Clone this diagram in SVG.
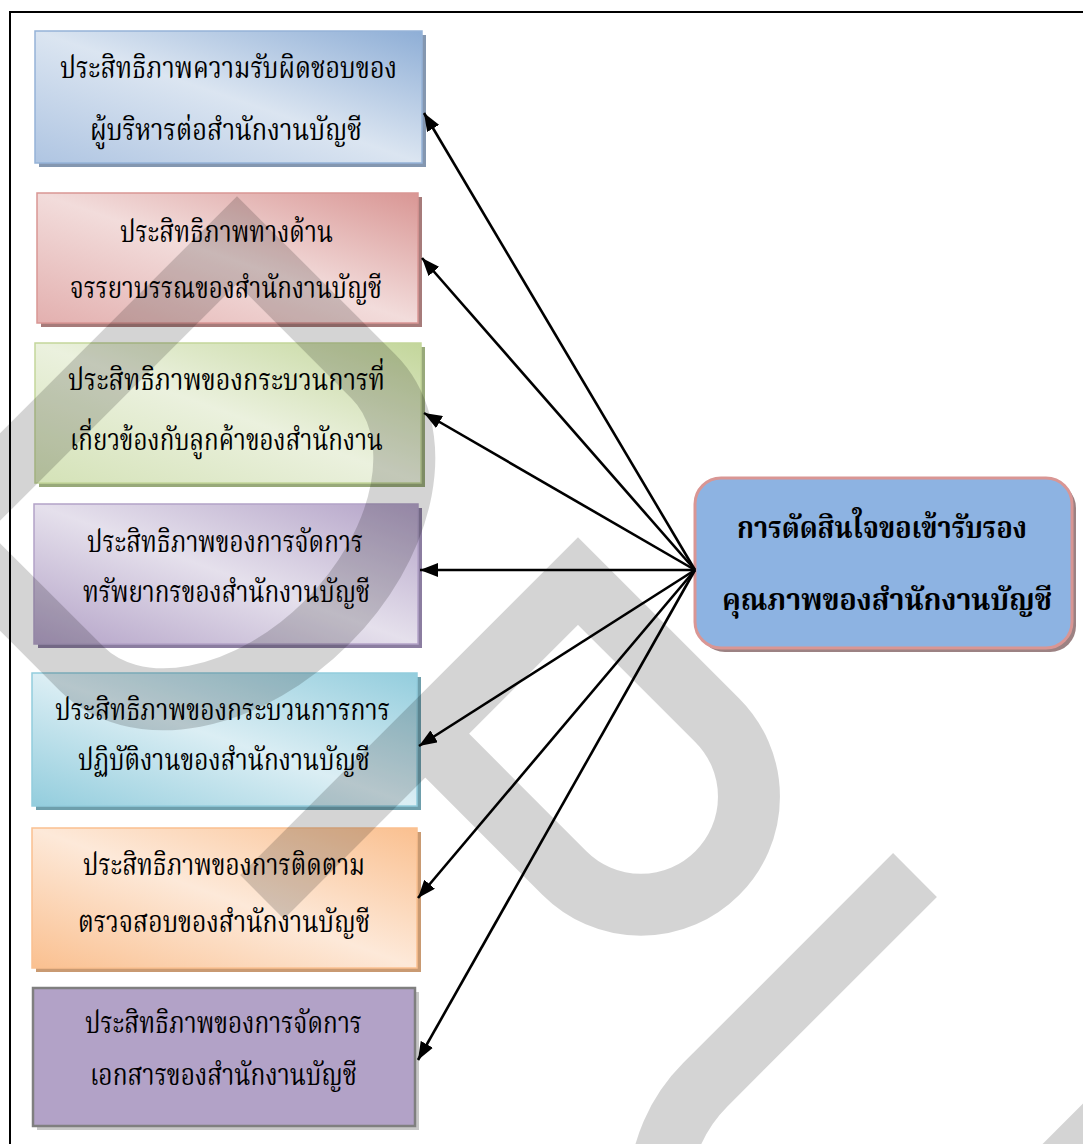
<svg xmlns="http://www.w3.org/2000/svg" width="1083" height="1144" viewBox="0 0 1083 1144">
  <style>
    .t { font-family: "Noto Serif Thai", "Noto Sans Thai", "Loma", "Garuda", "Norasi", "Tlwg Typo", "DejaVu Sans", serif; font-size: 30px; fill: #000; text-anchor: middle; }
    .tb { font-family: "Noto Serif Thai", "Noto Sans Thai", "Loma", "Garuda", "Norasi", "DejaVu Sans", serif; font-size: 31px; font-weight: bold; fill: #000; text-anchor: middle; }
    .conn line { stroke: #000; stroke-width: 2.6; fill: none; marker-end: url(#ah); }
    .wm path { fill: none; stroke: #000; stroke-opacity: 0.17; stroke-width: 62; stroke-linejoin: miter; stroke-linecap: butt; }
  </style>
  <defs>
    <marker id="ah" markerUnits="userSpaceOnUse" markerWidth="18" markerHeight="14" refX="18" refY="7" orient="auto">
      <path d="M0,0 L18,7 L0,14 z" fill="#000"/>
    </marker>
    <linearGradient id="g1" x1="1" y1="0" x2="0" y2="1">
      <stop offset="0" stop-color="#8EAED6"/><stop offset="0.5" stop-color="#DBE5F1"/><stop offset="1" stop-color="#AFC5E2"/>
    </linearGradient>
    <linearGradient id="g2" x1="1" y1="0" x2="0" y2="1">
      <stop offset="0" stop-color="#D99694"/><stop offset="0.5" stop-color="#F2DCDB"/><stop offset="1" stop-color="#E3B0AF"/>
    </linearGradient>
    <linearGradient id="g3" x1="1" y1="0" x2="0" y2="1">
      <stop offset="0" stop-color="#C3D69B"/><stop offset="0.5" stop-color="#EBF1DE"/><stop offset="1" stop-color="#D4E2B7"/>
    </linearGradient>
    <linearGradient id="g4" x1="1" y1="0" x2="0" y2="1">
      <stop offset="0" stop-color="#B3A2C7"/><stop offset="0.5" stop-color="#E5E0EC"/><stop offset="1" stop-color="#B3A2C7"/>
    </linearGradient>
    <linearGradient id="g5" x1="1" y1="0" x2="0" y2="1">
      <stop offset="0" stop-color="#93CDDD"/><stop offset="0.5" stop-color="#DBEEF4"/><stop offset="1" stop-color="#93CDDD"/>
    </linearGradient>
    <linearGradient id="g6" x1="1" y1="0" x2="0" y2="1">
      <stop offset="0" stop-color="#FAC090"/><stop offset="0.5" stop-color="#FDE9D9"/><stop offset="1" stop-color="#FAC090"/>
    </linearGradient>
  </defs>

  <rect x="0" y="0" width="1083" height="1144" fill="#fff"/>
  <rect x="10" y="12" width="1100" height="1160" fill="none" stroke="#000" stroke-width="2"/>

  <g id="n1">
    <rect x="39" y="35" width="387" height="132" fill="#8497B0"/>
    <rect x="35" y="31" width="387" height="132" fill="url(#g1)" stroke="#95B3D7" stroke-width="1.5"/>
    <text class="t" x="228.5" y="78" textLength="337" lengthAdjust="spacingAndGlyphs">ประสิทธิภาพความรับผิดชอบของ</text>
    <text class="t" x="226" y="140" textLength="272" lengthAdjust="spacingAndGlyphs">ผู้บริหารต่อสำนักงานบัญชี</text>
  </g>
  <g id="n2">
    <rect x="41" y="197" width="381" height="130" fill="#A67B7A"/>
    <rect x="37" y="193" width="381" height="130" fill="url(#g2)" stroke="#D99694" stroke-width="1.5"/>
    <text class="t" x="226.5" y="242" textLength="213" lengthAdjust="spacingAndGlyphs">ประสิทธิภาพทางด้าน</text>
    <text class="t" x="226" y="298" textLength="312" lengthAdjust="spacingAndGlyphs">จรรยาบรรณของสำนักงานบัญชี</text>
  </g>
  <g id="n3">
    <rect x="39" y="347" width="386" height="140" fill="#98A97A"/>
    <rect x="35" y="343" width="386" height="140" fill="url(#g3)" stroke="#C3D69B" stroke-width="1.5"/>
    <text class="t" x="226.5" y="390" textLength="317" lengthAdjust="spacingAndGlyphs">ประสิทธิภาพของกระบวนการที่</text>
    <text class="t" x="226.5" y="450" textLength="313" lengthAdjust="spacingAndGlyphs">เกี่ยวข้องกับลูกค้าของสำนักงาน</text>
  </g>
  <g id="n4">
    <rect x="38" y="508" width="384" height="140" fill="#8B7DA0"/>
    <rect x="34" y="504" width="384" height="140" fill="url(#g4)" stroke="#B3A2C7" stroke-width="1.5"/>
    <text class="t" x="225" y="552" textLength="276" lengthAdjust="spacingAndGlyphs">ประสิทธิภาพของการจัดการ</text>
    <text class="t" x="226.5" y="602" textLength="287" lengthAdjust="spacingAndGlyphs">ทรัพยากรของสำนักงานบัญชี</text>
  </g>
  <g id="n5">
    <rect x="36" y="677" width="385" height="133" fill="#6E9FAC"/>
    <rect x="32" y="673" width="385" height="133" fill="url(#g5)" stroke="#93CDDD" stroke-width="1.5"/>
    <text class="t" x="222.5" y="720" textLength="335" lengthAdjust="spacingAndGlyphs">ประสิทธิภาพของกระบวนการการ</text>
    <text class="t" x="224" y="770" textLength="292" lengthAdjust="spacingAndGlyphs">ปฏิบัติงานของสำนักงานบัญชี</text>
  </g>
  <g id="n6">
    <rect x="36" y="832" width="385" height="140" fill="#C99A72"/>
    <rect x="32" y="828" width="385" height="140" fill="url(#g6)" stroke="#FAC090" stroke-width="1.5"/>
    <text class="t" x="224" y="875" textLength="282" lengthAdjust="spacingAndGlyphs">ประสิทธิภาพของการติดตาม</text>
    <text class="t" x="224" y="932" textLength="292" lengthAdjust="spacingAndGlyphs">ตรวจสอบของสำนักงานบัญชี</text>
  </g>
  <g id="n7">
    <rect x="37" y="992" width="382" height="138" fill="#C8C8C8"/>
    <rect x="33" y="988" width="382" height="138" fill="#B2A2C7" stroke="#7F7F7F" stroke-width="2.5"/>
    <text class="t" x="223.5" y="1033" textLength="277" lengthAdjust="spacingAndGlyphs">ประสิทธิภาพของการจัดการ</text>
    <text class="t" x="223.5" y="1085" textLength="267" lengthAdjust="spacingAndGlyphs">เอกสารของสำนักงานบัญชี</text>
  </g>
  <g id="n8">
    <rect x="699" y="482" width="377" height="170" rx="26" fill="#9C8283"/>
    <rect x="695" y="478" width="377" height="170" rx="26" fill="#8DB3E2" stroke="#D99694" stroke-width="3"/>
    <text class="tb" x="882" y="538" textLength="290" lengthAdjust="spacingAndGlyphs">การตัดสินใจขอเข้ารับรอง</text>
    <text class="tb" x="887" y="610" textLength="330" lengthAdjust="spacingAndGlyphs">คุณภาพของสำนักงานบัญชี</text>
  </g>

  <g class="wm">
    <path d="M -46 523 L 237 240 L 373.5 376.5 A 141 206.5 45 0 1 327.2 622.2 A 141 206.5 45 0 1 81.5 668.5 L -55 532"/>
    <path d="M 262 897 L 578 581 L 717.3 720.3 A 108 108 0 0 1 717.3 873.1 A 108 108 0 0 1 564.5 873.1 L 425.3 733.7"/>
    <path d="M 915 875 L 705 1085 A 156 156 0 0 0 704.7 1305.3 A 156 156 0 0 0 925.3 1305.3 L 1325 905"/>
  </g>

  <g class="conn" id="connectors">
    <line x1="695" y1="570" x2="424" y2="113"/>
    <line x1="695" y1="570" x2="422" y2="258"/>
    <line x1="695" y1="570" x2="424" y2="413"/>
    <line x1="695" y1="570" x2="420" y2="570"/>
    <line x1="695" y1="570" x2="419" y2="746"/>
    <line x1="695" y1="570" x2="418" y2="898"/>
    <line x1="695" y1="570" x2="418" y2="1060"/>
  </g>
</svg>
